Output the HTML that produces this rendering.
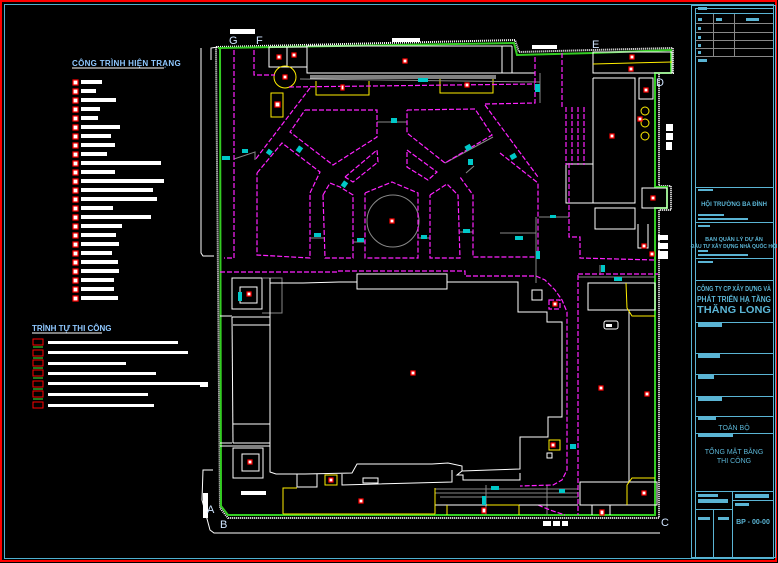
<!DOCTYPE html>
<html><head><meta charset="utf-8"><style>
html,body{margin:0;padding:0;background:#000;}
svg{display:block;}
text{font-family:"Liberation Sans",sans-serif;}
</style></head><body>
<svg width="778" height="563" viewBox="0 0 778 563" xmlns="http://www.w3.org/2000/svg">
<rect x="0" y="0" width="778" height="563" fill="#000"/>
<rect x="1" y="1" width="775" height="560" fill="none" stroke="#ff0000" stroke-width="2"/>
<rect x="4.5" y="4.5" width="769" height="554" fill="none" stroke="#4fb0d0" stroke-width="1"/>

<!-- Legend 1 -->
<text x="72" y="66" font-size="8" font-weight="bold" fill="#8fc8ff" letter-spacing="0.3">CÔNG TRÌNH HIỆN TRẠNG</text>
<line x1="72" y1="68" x2="164" y2="68" stroke="#fff" stroke-width="1"/>
<g fill="#fff">
<rect x="81" y="80" width="21" height="4"/><rect x="81" y="89" width="15" height="4"/><rect x="81" y="98" width="35" height="4"/>
<rect x="81" y="107" width="19" height="4"/><rect x="81" y="116" width="17" height="4"/><rect x="81" y="125" width="39" height="4"/>
<rect x="81" y="134" width="30" height="4"/><rect x="81" y="143" width="34" height="4"/><rect x="81" y="152" width="26" height="4"/>
<rect x="81" y="161" width="80" height="4"/><rect x="81" y="170" width="34" height="4"/><rect x="81" y="179" width="83" height="4"/>
<rect x="81" y="188" width="72" height="4"/><rect x="81" y="197" width="76" height="4"/><rect x="81" y="206" width="32" height="4"/>
<rect x="81" y="215" width="70" height="4"/><rect x="81" y="224" width="41" height="4"/><rect x="81" y="233" width="35" height="4"/>
<rect x="81" y="242" width="38" height="4"/><rect x="81" y="251" width="31" height="4"/><rect x="81" y="260" width="37" height="4"/>
<rect x="81" y="269" width="38" height="4"/><rect x="81" y="278" width="33" height="4"/><rect x="81" y="287" width="33" height="4"/>
<rect x="81" y="296" width="37" height="4"/>
</g>
<g fill="#fff" stroke="#f00" stroke-width="1.2">
<rect x="73" y="80" width="5" height="5"/><rect x="73" y="89" width="5" height="5"/><rect x="73" y="98" width="5" height="5"/>
<rect x="73" y="107" width="5" height="5"/><rect x="73" y="116" width="5" height="5"/><rect x="73" y="125" width="5" height="5"/>
<rect x="73" y="134" width="5" height="5"/><rect x="73" y="143" width="5" height="5"/><rect x="73" y="152" width="5" height="5"/>
<rect x="73" y="161" width="5" height="5"/><rect x="73" y="170" width="5" height="5"/><rect x="73" y="179" width="5" height="5"/>
<rect x="73" y="188" width="5" height="5"/><rect x="73" y="197" width="5" height="5"/><rect x="73" y="206" width="5" height="5"/>
<rect x="73" y="215" width="5" height="5"/><rect x="73" y="224" width="5" height="5"/><rect x="73" y="233" width="5" height="5"/>
<rect x="73" y="242" width="5" height="5"/><rect x="73" y="251" width="5" height="5"/><rect x="73" y="260" width="5" height="5"/>
<rect x="73" y="269" width="5" height="5"/><rect x="73" y="278" width="5" height="5"/><rect x="73" y="287" width="5" height="5"/>
<rect x="73" y="296" width="5" height="5"/>
</g>

<!-- Legend 2 -->
<text x="32" y="331" font-size="8" font-weight="bold" fill="#8fc8ff">TRÌNH TỰ THI CÔNG</text>
<line x1="32" y1="333" x2="102" y2="333" stroke="#fff" stroke-width="1"/>
<g fill="none" stroke="#f00" stroke-width="1">
<rect x="33" y="339" width="10" height="6"/><rect x="33" y="350" width="10" height="6"/><rect x="33" y="360" width="10" height="6"/>
<rect x="33" y="370" width="10" height="6"/><rect x="33" y="381" width="10" height="6"/><rect x="33" y="391" width="10" height="6"/>
<rect x="33" y="402" width="10" height="6"/>
</g>
<g stroke="#2ec82e" stroke-width="1.2">
<line x1="33" y1="347" x2="43" y2="347"/><line x1="33" y1="358" x2="43" y2="358"/><line x1="33" y1="368" x2="43" y2="368"/>
<line x1="33" y1="378" x2="43" y2="378"/><line x1="33" y1="389" x2="43" y2="389"/><line x1="33" y1="399" x2="43" y2="399"/>
</g>
<g fill="#fff">
<rect x="48" y="341" width="130" height="3"/><rect x="48" y="351" width="140" height="3"/><rect x="48" y="362" width="78" height="3"/>
<rect x="48" y="372" width="108" height="3"/><rect x="48" y="382" width="160" height="3"/><rect x="48" y="393" width="100" height="3"/>
<rect x="48" y="404" width="106" height="3"/>
</g>

<!-- Site outer white dotted boundary -->
<polyline points="216,47 515,40 519,52 593,50 673,48 673,73 659,73 659,186 671,186 671,210 659,210 659,518 228,518 220,508 216,47" fill="none" stroke="#fff" stroke-width="2" stroke-dasharray="1,1"/>
<!-- green boundary -->
<polyline points="218,48 514,43 517,55 593,53 671,50 671,73 655,73 655,187 667,187 667,208 655,208 655,515 228,515 221,506 220,48" fill="none" stroke="#33cc22" stroke-width="2"/>

<!-- left white outer lines -->
<polyline points="211,60 211,48 218,47" fill="none" stroke="#fff"/>
<polyline points="201,48 201,253 203,256 214,256" fill="none" stroke="#fff"/>
<polyline points="213,470 203,470 202,500 210,530 214,533 660,533" fill="none" stroke="#fff"/>
<rect x="203" y="493" width="5" height="25" fill="#fff"/>
<rect x="230" y="29" width="25" height="5" fill="#fff"/>
<rect x="392" y="38" width="28" height="4" fill="#fff"/>
<rect x="532" y="45" width="25" height="4" fill="#fff"/>
<rect x="666" y="124" width="7" height="7" fill="#fff"/><rect x="666" y="133" width="7" height="7" fill="#fff"/><rect x="666" y="142" width="6" height="8" fill="#fff"/>
<rect x="658" y="235" width="10" height="5" fill="#fff"/><rect x="658" y="243" width="10" height="6" fill="#fff"/><rect x="658" y="251" width="10" height="8" fill="#fff"/>
<rect x="543" y="521" width="8" height="5" fill="#fff"/><rect x="553" y="521" width="7" height="5" fill="#fff"/><rect x="562" y="521" width="6" height="5" fill="#fff"/>
<rect x="241" y="491" width="25" height="4" fill="#fff"/>
<rect x="200" y="382" width="8" height="5" fill="#fff"/>

<!-- letters -->
<g font-family="Liberation Serif,serif" font-size="11" fill="#cfe4ff">
<text x="229" y="44">G</text><text x="256" y="44">F</text><text x="592" y="48">E</text><text x="656" y="86">D</text>
<text x="207" y="513">A</text><text x="220" y="528">B</text><text x="661" y="526">C</text>
</g>

<!-- top buildings -->
<g fill="none" stroke="#fff" stroke-width="1">
<rect x="307" y="46" width="195" height="27"/>
<line x1="502" y1="46" x2="512" y2="46"/><line x1="512" y1="46" x2="512" y2="73"/><line x1="502" y1="73" x2="535" y2="73"/>
<line x1="310" y1="76" x2="496" y2="76"/><line x1="310" y1="78" x2="496" y2="78"/>
<rect x="269" y="47" width="38" height="20"/><line x1="287" y1="47" x2="287" y2="67"/>
<rect x="593" y="52" width="79" height="21"/>
<polyline points="593,78 635,78 635,203 593,203 593,78"/>
<rect x="566" y="164" width="27" height="39"/>
<rect x="595" y="208" width="40" height="21"/>
<rect x="639" y="78" width="14" height="21"/>
<rect x="642" y="188" width="25" height="20"/>
<polyline points="638,224 638,248 648,248 648,224"/>
</g>
<g fill="none" stroke="#ffee00" stroke-width="1">
<circle cx="285" cy="77" r="11"/>
<rect x="271" y="93" width="12" height="24"/>
<polyline points="316,81 316,95 369,95 369,81"/>
<polyline points="440,79 440,93 493,93 493,79"/>
<line x1="593" y1="64" x2="672" y2="62"/>
<circle cx="645" cy="111" r="4"/><circle cx="645" cy="123" r="4"/><circle cx="645" cy="136" r="4"/>
</g>

<!-- gray lines -->
<g fill="none" stroke="#888" stroke-width="1">
<circle cx="393" cy="221" r="26"/>
<line x1="377" y1="122" x2="407" y2="122"/>
<polyline points="234,159 255,152 255,160"/>
<line x1="300" y1="79" x2="540" y2="82"/>
<line x1="540" y1="73" x2="540" y2="103"/>
<line x1="445" y1="163" x2="493" y2="137"/>
<line x1="466" y1="173" x2="474" y2="166"/>
<line x1="310" y1="238" x2="325" y2="238"/><line x1="353" y1="242" x2="365" y2="242"/><line x1="418" y1="238" x2="430" y2="238"/><line x1="460" y1="232" x2="473" y2="232"/>
<polyline points="500,233 536,233 536,283"/><line x1="539" y1="217" x2="569" y2="217"/><line x1="536" y1="217" x2="536" y2="258"/>
<polyline points="536,258 536,277"/>
<polyline points="263,278 282,278 282,313 262,313"/>
<polyline points="578,277 655,277"/><line x1="600" y1="265" x2="600" y2="275"/>
<line x1="435" y1="489" x2="578" y2="489"/><line x1="435" y1="493" x2="578" y2="493"/><line x1="486" y1="485" x2="486" y2="515"/><line x1="547" y1="485" x2="547" y2="515"/>
<line x1="440" y1="497" x2="578" y2="497"/>
</g>

<!-- magenta dashed roads -->
<g fill="none" stroke="#ff22ff" stroke-width="1.2" stroke-dasharray="5,2">
<polyline points="234,50 234,258 224,258"/>
<polyline points="254,50 254,75 275,75"/>
<line x1="289" y1="87" x2="535" y2="84"/>
<polyline points="310,88 255,160"/>
<polyline points="305,110 377,110 377,137 333,165 290,132 305,110"/>
<polyline points="407,110 475,109 492,135 445,163 407,133 407,110"/>
<polyline points="345,177 377,150 378,162 353,182 345,177"/>
<polyline points="407,150 437,172 428,180 407,167 407,150"/>
<polyline points="365,193 392,182 418,193 418,258 365,258 365,193"/>
<polyline points="323,195 330,183 340,187 353,195 353,258 325,258 323,195"/>
<polyline points="430,195 447,184 458,195 460,258 430,258 430,195"/>
<polyline points="257,173 282,143 320,172 310,193 310,258 257,255 257,173"/>
<polyline points="500,153 538,183 538,257 473,257 473,195 460,177"/>
<polyline points="485,105 538,177"/>
<polyline points="485,104 535,103 535,55"/>
<polyline points="562,53 562,107"/>
<line x1="566" y1="107" x2="566" y2="165"/><line x1="572" y1="107" x2="572" y2="165"/><line x1="578" y1="107" x2="578" y2="165"/><line x1="584" y1="107" x2="584" y2="165"/>
<polyline points="569,163 569,237 580,237 580,258 655,260"/>
<polyline points="220,272 337,272 337,271 465,271 465,276 536,276 545,280 555,290 562,300 567,312 567,470 562,480 553,485 520,486"/>
<polyline points="578,275 578,515"/>
<line x1="578" y1="274" x2="658" y2="274"/>
<polyline points="538,505 550,510 565,515"/>
<rect x="549" y="300" width="11" height="9"/>
</g>

<!-- main building -->
<g fill="none" stroke="#fff" stroke-width="1">
<polyline points="270,283 303,283 339,282 347,282 357,282 357,274 447,274 447,282 456,282 518,282 518,312 547,312 547,322 562,322 562,417 548,417 548,437 520,437 520,469 490,470 462,471 457,475 463,475 463,480 520,480 520,473"/>
<rect x="357" y="274" width="90" height="15"/>
<polyline points="270,283 270,472 276,474 305,474 352,473 357,464 432,464 448,463 462,466 462,471"/>
<polyline points="270,283 270,278"/>
<line x1="232" y1="317" x2="270" y2="317"/><line x1="232" y1="317" x2="233" y2="443"/><line x1="233" y1="325" x2="270" y2="325"/><line x1="233" y1="424" x2="270" y2="424"/><line x1="233" y1="443" x2="270" y2="443"/>
<line x1="220" y1="316" x2="232" y2="316"/><line x1="220" y1="443" x2="232" y2="443"/><line x1="220" y1="446" x2="270" y2="446"/>
<rect x="232" y="278" width="30" height="31"/><rect x="240" y="287" width="17" height="16"/>
<rect x="233" y="448" width="30" height="30"/><rect x="242" y="454" width="17" height="17"/>
<rect x="532" y="290" width="10" height="10"/>
<rect x="547" y="453" width="5" height="5"/>
<polyline points="297,474 297,487 317,487 317,474"/>
<polyline points="342,474 342,485 452,482 452,470"/>
<rect x="363" y="478" width="15" height="5"/>
<rect x="588" y="283" width="67" height="27"/>
<line x1="629" y1="310" x2="629" y2="482"/>
<rect x="580" y="482" width="77" height="23"/>
<line x1="592" y1="505" x2="592" y2="515"/><line x1="610" y1="505" x2="610" y2="515"/>
<rect x="604" y="321" width="14" height="8" rx="2"/>
<line x1="435" y1="505" x2="578" y2="505"/>
</g>
<g fill="none" stroke="#ffee00" stroke-width="1">
<polyline points="283,514 283,488 297,488"/><line x1="283" y1="514" x2="435" y2="514"/><polyline points="435,488 435,514"/>
<rect x="325" y="475" width="12" height="10"/>
<rect x="549" y="440" width="11" height="10"/>
<polyline points="626,283 627,308 632,316 655,316"/>
<polyline points="655,478 632,478 627,485 627,505"/>
<line x1="447" y1="505" x2="447" y2="515"/><line x1="487" y1="505" x2="519" y2="505"/><line x1="519" y1="505" x2="519" y2="515"/>
</g>
<rect x="606" y="324" width="6" height="3" fill="#fff"/>

<!-- cyan markers -->
<g fill="#00c8c8">
<rect x="222" y="156" width="8" height="4"/><rect x="242" y="149" width="6" height="4"/><rect x="267" y="150" width="5" height="5" transform="rotate(35 270 152)"/>
<rect x="297" y="146" width="5" height="6" transform="rotate(35 299 149)"/><rect x="391" y="118" width="6" height="5"/><rect x="418" y="78" width="10" height="4"/>
<rect x="535" y="84" width="5" height="8"/><rect x="465" y="145" width="6" height="5" transform="rotate(-30 468 147)"/><rect x="468" y="159" width="5" height="6"/>
<rect x="510" y="154" width="6" height="5" transform="rotate(-30 513 156)"/><rect x="342" y="181" width="5" height="6" transform="rotate(35 344 184)"/>
<rect x="314" y="233" width="7" height="4"/><rect x="357" y="238" width="7" height="4"/><rect x="421" y="235" width="6" height="4"/><rect x="463" y="229" width="7" height="4"/>
<rect x="550" y="215" width="6" height="3"/><rect x="515" y="236" width="8" height="4"/><rect x="536" y="251" width="4" height="8"/>
<rect x="601" y="265" width="4" height="7"/><rect x="614" y="277" width="8" height="4"/><rect x="238" y="292" width="4" height="9"/>
<rect x="570" y="444" width="6" height="5"/><rect x="491" y="486" width="8" height="4"/><rect x="482" y="496" width="4" height="9"/><rect x="559" y="489" width="6" height="4"/>
</g>

<!-- red/white markers -->
<g fill="#fff" stroke="#f00" stroke-width="1.2">
<rect x="277" y="55" width="4" height="4"/><rect x="292" y="53" width="4" height="4"/><rect x="403" y="59" width="4" height="4"/>
<rect x="283" y="75" width="4" height="4"/><rect x="275" y="102" width="5" height="5"/><rect x="341" y="85" width="3" height="5"/>
<rect x="465" y="83" width="4" height="4"/><rect x="630" y="55" width="4" height="4"/><rect x="629" y="67" width="4" height="4"/>
<rect x="644" y="88" width="4" height="4"/><rect x="638" y="117" width="4" height="4"/><rect x="610" y="134" width="4" height="4"/>
<rect x="390" y="219" width="4" height="4"/><rect x="651" y="196" width="4" height="4"/><rect x="642" y="244" width="4" height="4"/>
<rect x="650" y="252" width="4" height="4"/><rect x="247" y="292" width="4" height="4"/><rect x="553" y="302" width="4" height="4"/>
<rect x="411" y="371" width="4" height="4"/><rect x="599" y="386" width="4" height="4"/><rect x="645" y="392" width="4" height="4"/>
<rect x="248" y="460" width="4" height="4"/><rect x="551" y="443" width="4" height="4"/><rect x="329" y="478" width="4" height="4"/>
<rect x="359" y="499" width="4" height="4"/><rect x="642" y="491" width="4" height="4"/><rect x="482" y="508" width="4" height="5"/>
<rect x="600" y="510" width="4" height="5"/>
</g>

<!-- Title block -->
<g fill="none" stroke="#5ab4d4" stroke-width="1">
<rect x="691.5" y="5.5" width="84" height="552"/>
<rect x="695.5" y="8.5" width="78" height="549"/>
<line x1="696" y1="13.5" x2="773" y2="13.5"/>
<line x1="696" y1="187.5" x2="773" y2="187.5"/><line x1="696" y1="222.5" x2="773" y2="222.5"/><line x1="696" y1="258.5" x2="773" y2="258.5"/>
<line x1="696" y1="280.5" x2="773" y2="280.5"/><line x1="696" y1="322.5" x2="773" y2="322.5"/><line x1="696" y1="353.5" x2="773" y2="353.5"/>
<line x1="696" y1="374.5" x2="773" y2="374.5"/><line x1="696" y1="396.5" x2="773" y2="396.5"/><line x1="696" y1="416.5" x2="773" y2="416.5"/>
<line x1="696" y1="433.5" x2="773" y2="433.5"/><line x1="696" y1="491.5" x2="773" y2="491.5"/><line x1="732" y1="500.5" x2="773" y2="500.5"/>
<line x1="696" y1="509.5" x2="732" y2="509.5"/>
<line x1="732.5" y1="491" x2="732.5" y2="558"/><line x1="713.5" y1="509" x2="713.5" y2="558"/>
</g>
<g fill="none" stroke="#888" stroke-width="1">
<line x1="696" y1="23.5" x2="773" y2="23.5"/><line x1="696" y1="32.5" x2="773" y2="32.5"/><line x1="696" y1="40.5" x2="773" y2="40.5"/><line x1="696" y1="48.5" x2="773" y2="48.5"/><line x1="696" y1="56.5" x2="773" y2="56.5"/>
<line x1="713.5" y1="14" x2="713.5" y2="56"/><line x1="734.5" y1="14" x2="734.5" y2="56"/>
</g>
<g fill="#5ab4d4">
<rect x="698" y="7" width="9" height="3"/><rect x="698" y="18" width="4" height="3"/><rect x="716" y="18" width="6" height="3"/><rect x="746" y="18" width="13" height="3"/>
<rect x="698" y="27" width="3" height="3"/><rect x="698" y="36" width="3" height="3"/><rect x="698" y="44" width="3" height="3"/><rect x="698" y="51" width="3" height="3"/>
<rect x="698" y="59" width="9" height="3"/><rect x="698" y="189" width="15" height="2"/><rect x="698" y="214" width="26" height="2"/><rect x="698" y="218" width="50" height="2"/>
<rect x="698" y="225" width="12" height="2"/><rect x="698" y="250" width="10" height="2"/><rect x="698" y="254" width="50" height="2"/><rect x="698" y="261" width="15" height="2"/>
<rect x="698" y="323" width="24" height="4"/><rect x="698" y="354" width="22" height="4"/><rect x="698" y="375" width="16" height="4"/><rect x="698" y="397" width="24" height="4"/>
<rect x="698" y="417" width="18" height="3"/><rect x="698" y="434" width="35" height="3"/><rect x="698" y="494" width="20" height="3"/><rect x="698" y="499" width="30" height="4"/>
<rect x="735" y="494" width="34" height="4"/><rect x="735" y="503" width="14" height="3"/><rect x="698" y="517" width="12" height="3"/><rect x="718" y="517" width="11" height="3"/>
</g>
<g fill="#5ab4d4" font-weight="bold" text-anchor="middle">
<text x="734" y="206" font-size="6">HỘI TRƯỜNG BA ĐÌNH</text>
<text x="734" y="241" font-size="5.5">BAN QUẢN LÝ DỰ ÁN</text>
<text x="734" y="248" font-size="5">ĐẦU TƯ XÂY DỰNG NHÀ QUỐC HỘI</text>
<text x="734" y="291" font-size="7.5" textLength="74" lengthAdjust="spacingAndGlyphs">CÔNG TY CP XÂY DỰNG VÀ</text>
<text x="734" y="302" font-size="8" textLength="74" lengthAdjust="spacingAndGlyphs">PHÁT TRIỂN HẠ TẦNG</text>
<text x="734" y="313" font-size="10" textLength="74" lengthAdjust="spacingAndGlyphs">THĂNG LONG</text>
</g>
<g fill="#5ab4d4" text-anchor="middle">
<text x="734" y="430" font-size="7">TOÀN BỘ</text>
<text x="734" y="454" font-size="7">TỔNG MẶT BẰNG</text>
<text x="734" y="463" font-size="7">THI CÔNG</text>
<text x="753" y="524" font-size="7" font-weight="bold">BP - 00-00</text>
</g>
</svg>
</body></html>
